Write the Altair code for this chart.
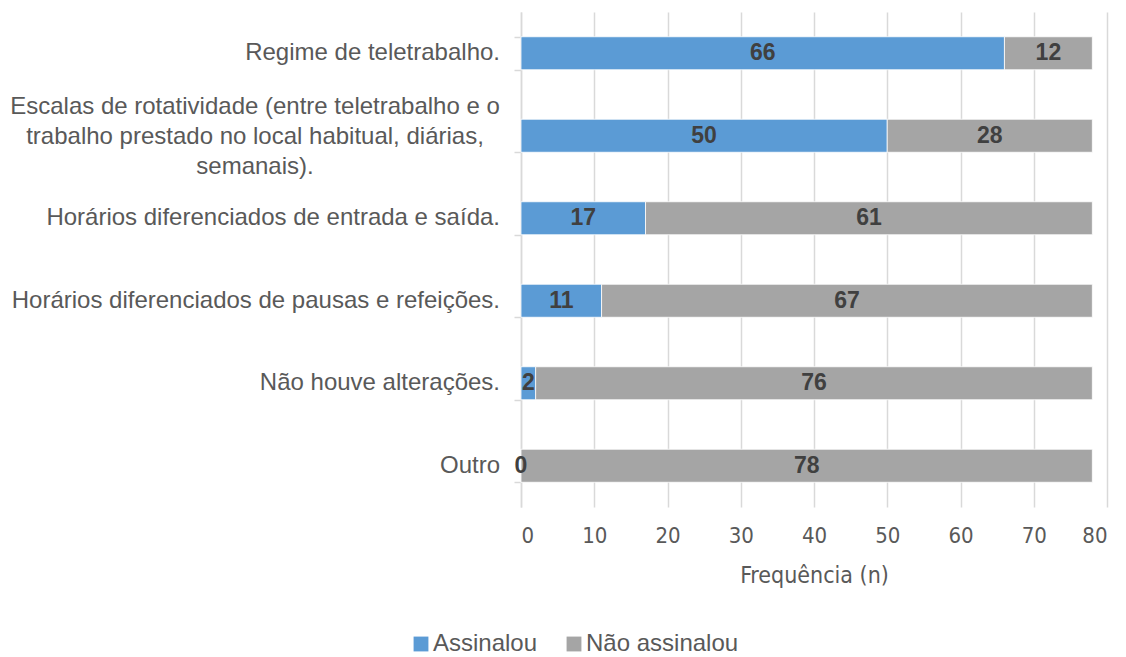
import altair as alt
import pandas as pd

categories = [
    "Regime de teletrabalho.",
    "Escalas de rotatividade (entre teletrabalho e o|trabalho prestado no local habitual, diárias,|semanais).",
    "Horários diferenciados de entrada e saída.",
    "Horários diferenciados de pausas e refeições.",
    "Não houve alterações.",
    "Outro",
]
assinalou = [66, 50, 17, 11, 2, 0]
nao_assinalou = [12, 28, 61, 67, 76, 78]
series = ["Assinalou", "Não assinalou"]
colors = ["#5B9BD5", "#A5A5A5"]
x_ticks = [0, 10, 20, 30, 40, 50, 60, 70, 80]

rows = []
for c, a, n in zip(categories, assinalou, nao_assinalou):
    rows.append({"cat": c, "serie": series[0], "val": a, "ord": 0, "start": 0, "end": a})
    rows.append({"cat": c, "serie": series[1], "val": n, "ord": 1, "start": a, "end": a + n})
df = pd.DataFrame(rows)
df["mid"] = (df["start"] + df["end"]) / 2

cat_df = pd.DataFrame({"cat": categories})
cat_df["multi"] = cat_df["cat"].str.contains("|", regex=False)

NARROW = "Liberation Sans Narrow, DejaVu Sans Condensed, Roboto Condensed, Roboto"
ysc = alt.Scale(domain=categories, paddingInner=0.6, paddingOuter=0.3)

y = alt.Y("cat:N", sort=categories, title=None, scale=ysc,
          axis=alt.Axis(labels=False, tickBand="extent", tickColor="#D9D9D9", tickSize=7,
                        tickWidth=1.5, domainColor="#D9D9D9", domainWidth=1.5, grid=False))

bars = alt.Chart(df).mark_bar(stroke="white", strokeWidth=0.8).encode(
    x=alt.X("start:Q", title="Frequência (n)",
            scale=alt.Scale(domain=[0, 80], nice=False),
            axis=alt.Axis(values=x_ticks, labelFont=NARROW, labelFontWeight=300,
                          labelFontSize=22, labelColor="#595959", titleFont=NARROW,
                          titleFontSize=23, titleColor="#595959", titleFontWeight=300,
                          titlePadding=18, domain=False, ticks=False, labelPadding=18,
                          gridColor="#D9D9D9", gridWidth=1.5)),
    x2="end:Q",
    y=y,
    color=alt.Color("serie:N", scale=alt.Scale(domain=series, range=colors),
                    legend=alt.Legend(orient="none", direction="horizontal", legendX=-112,
                                      legendY=620, title=None, symbolType="square",
                                      symbolSize=220, symbolStrokeWidth=0, labelFont="Liberation Sans",
                                      labelFontSize=24, labelColor="#595959", labelOffset=0,
                                      columnPadding=24, symbolOpacity=1)),
    order="ord:Q",
)

labels = alt.Chart(df).mark_text(font="Liberation Sans", fontSize=23, fontWeight="bold",
                                 color="#404040").encode(
    x="mid:Q",
    y=alt.Y("cat:N", sort=categories, scale=ysc),
    text="val:Q",
)

ylab_single = alt.Chart(cat_df).transform_filter("!datum.multi").mark_text(
    font="Liberation Sans", fontSize=24, color="#595959", align="right", baseline="middle"
).encode(
    x=alt.value(-21),
    y=alt.Y("cat:N", sort=categories, scale=ysc),
    text="cat:N",
)

ylab_multi = alt.Chart(cat_df).transform_filter("datum.multi").mark_text(
    font="Liberation Sans", fontSize=24, color="#595959", align="center", baseline="top",
    lineBreak="|", lineHeight=30, dy=-41
).encode(
    x=alt.value(-266),
    y=alt.Y("cat:N", sort=categories, scale=ysc),
    text="cat:N",
)

chart = (bars + labels + ylab_single + ylab_multi).properties(
    width=586, height=495, padding={"left": 2, "top": 4, "right": 5, "bottom": 5}
).configure_view(stroke=None)
chart.save("out.html", embed_options={"renderer": "svg", "actions": False})
